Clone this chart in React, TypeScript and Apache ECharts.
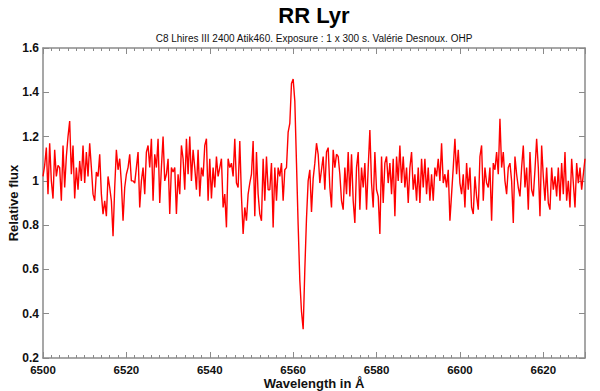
import React, { useEffect, useRef } from "react";
import * as echarts from "echarts";

const TITLE = "RR Lyr";
const SUBTITLE = "C8 Lhires III 2400 Atik460. Exposure : 1 x 300 s. Valérie Desnoux. OHP";
const X_NAME = "Wavelength in Å";
const Y_NAME = "Relative flux";

const X_MIN = 6500;
const X_MAX = 6630;
const X_INTERVAL = 20;
const Y_MIN = 0.2;
const Y_MAX = 1.6;
const Y_INTERVAL = 0.2;

// spectrum sampling step (Å)
const STEP = 0.4;

// flux, segment by segment
const startA = 6500.0;
const fluxA = [1.02, 1.07, 1.15, 0.94, 1.17, 1.0, 0.92, 1.14, 1.02, 1.07];

const startB = 6504.0;
const fluxB = [
  1.06, 0.91, 1.16, 0.97, 1.11, 1.2, 1.27, 1.03, 1.16, 0.92,
  1.06, 0.96, 1.09, 1.0, 1.16, 0.99, 1.13, 1.02, 1.17, 1.06,
  0.94, 0.91, 1.04, 1.02, 1.12, 0.94, 0.85, 0.91, 0.84, 1.02,
  0.97, 0.91, 0.75, 0.97, 1.14, 1.05, 1.1, 0.99, 0.82, 0.97,
  1.03, 1.06, 1.12, 1.0, 1.0, 0.99, 1.06, 1.13, 0.88, 1.0,
  1.06, 0.94, 1.13, 1.16, 1.06, 1.19, 0.91, 1.12, 1.06, 1.19,
  0.9, 1.06, 1.2, 1.0, 1.03, 1.1, 0.85, 1.06, 1.04, 1.06,
  0.85, 1.03, 0.94, 1.16, 1.1, 0.96, 1.19, 1.03, 1.2, 1.0,
  1.14, 1.06, 0.96, 1.14, 0.93, 1.06, 1.02, 1.16, 1.19, 0.91,
  1.1,
];

const startC = 6540.4;
const fluxC = [
  0.92, 1.06, 0.97, 1.11, 1.02, 1.06, 1.1, 0.88, 0.94, 0.79,
  1.1, 1.06, 1.08, 1.02, 1.19, 0.99, 0.97, 1.18, 0.93, 0.76,
  0.88, 0.82, 0.94, 0.99, 1.03, 1.18, 0.84, 1.13, 0.94, 0.85,
];

const startD = 6552.4;
const fluxD = [
  0.82, 1.1, 0.91, 1.11, 0.96, 0.96, 1.08, 0.79, 1.06, 0.91,
  1.06, 1.02, 1.08, 0.91, 1.05, 1.06, 1.22, 1.26, 1.44, 1.46,
  1.36, 1.08, 0.8, 0.55, 0.41, 0.33, 0.6, 0.83, 1.0, 1.05,
  0.86, 1.01, 1.08, 1.17, 1.12, 0.99, 1.05, 1.11, 0.96, 1.13,
  1.15, 0.97, 0.88, 1.14, 1.06, 1.12, 1.11, 1.03,
];

const startE = 6571.6;
const fluxE = [
  0.91, 0.87, 1.06, 0.94, 1.13, 0.93, 1.12, 0.91, 0.81, 1.06,
  1.13, 0.87, 1.06, 0.97, 1.08, 0.87, 1.06, 1.23, 0.99, 0.88,
  1.13, 0.96, 0.93, 0.76, 1.11, 0.9, 1.08, 1.11, 0.99, 1.08,
  0.94, 1.1, 0.84, 1.11, 1.0, 1.16, 0.99, 1.11, 0.97, 1.06,
  0.9, 1.06, 1.13, 0.96, 1.03, 0.91, 1.06, 0.9, 1.1, 0.97,
  1.1, 0.94, 1.06, 0.91, 1.03, 0.91, 1.06, 1.02, 1.1, 1.0,
  1.17, 0.99, 1.03, 0.97, 1.05, 0.82, 0.94, 1.06, 1.19, 1.03,
  1.14, 0.99, 0.94, 1.03, 0.88, 1.08, 0.96, 1.06,
];

const startF = 6602.8;
const fluxF = [
  0.88, 0.85, 1.02, 0.93, 0.87, 1.11, 1.16, 0.91, 1.06, 0.99,
  0.97, 1.06, 0.82, 1.08, 1.05, 1.13, 1.03, 1.28, 1.06, 1.13,
  1.0, 0.94, 1.06, 1.08, 1.0, 0.81, 1.11, 1.03, 0.97, 0.93,
  1.06, 1.16, 0.97, 1.06, 0.87, 1.13, 0.96, 0.93, 1.05, 1.19,
  1.06, 0.84, 1.16, 1.02, 0.91, 1.06, 0.9, 0.87, 1.06, 0.96,
  1.02, 0.93, 1.06, 0.91, 1.08, 0.94, 1.13, 0.91, 1.0, 0.88,
  1.1, 0.99, 0.88, 1.08, 0.99, 1.06, 0.96, 1.03, 1.1,
];

const segments: [number, number[]][] = [
  [startA, fluxA],
  [startB, fluxB],
  [startC, fluxC],
  [startD, fluxD],
  [startE, fluxE],
  [startF, fluxF],
];

const FONT = "'Liberation Sans', Arial, Helvetica, sans-serif";
const AXIS_GRAY = "#8a8a8a";

export default function App() {
  const ref = useRef<HTMLDivElement>(null);

  useEffect(() => {
    if (!ref.current) return;
    const chart = echarts.init(ref.current, null, { renderer: "svg" });

    const data: [number, number][] = [];
    segments.forEach(([start, vals]) => {
      vals.forEach((v, i) => {
        data.push([Math.round((start + i * STEP) * 100) / 100, v]);
      });
    });

    const gridLeft = 43;
    const gridRight = 15;
    const gridTop = 48;
    const gridBottom = 33;
    const plotCx = gridLeft + (600 - gridLeft - gridRight) / 2;
    const plotCy = gridTop + (391 - gridTop - gridBottom) / 2;

    const xCommon = {
      type: "value" as const,
      min: X_MIN,
      max: X_MAX,
      interval: X_INTERVAL,
      axisLine: { show: true, onZero: false, lineStyle: { color: AXIS_GRAY, width: 1.5 } },
      axisTick: { show: true, inside: true, length: 6, lineStyle: { color: AXIS_GRAY, width: 1 } },
      minorTick: { show: true, splitNumber: 10, length: 3, lineStyle: { color: AXIS_GRAY, width: 1 } },
      splitLine: { show: false },
    };
    const yCommon = {
      type: "value" as const,
      min: Y_MIN,
      max: Y_MAX,
      interval: Y_INTERVAL,
      axisLine: { show: true, onZero: false, lineStyle: { color: AXIS_GRAY, width: 1.5 } },
      axisTick: { show: true, inside: true, length: 6, lineStyle: { color: AXIS_GRAY, width: 1 } },
      splitLine: { show: false },
    };

    chart.setOption({
      animation: false,
      backgroundColor: "#ffffff",
      grid: { left: gridLeft, right: gridRight, top: gridTop, bottom: gridBottom, containLabel: false },
      xAxis: [
        {
          ...xCommon,
          position: "bottom",
          axisLabel: {
            show: true,
            showMaxLabel: false,
            margin: 6,
            color: "#111",
            fontWeight: "bold",
            fontSize: 11.5,
            lineHeight: 12,
            fontFamily: FONT,
            formatter: (v: number) => String(v),
          },
        },
        {
          ...xCommon,
          position: "top",
          axisLabel: { show: false },
        },
      ],
      yAxis: [
        {
          ...yCommon,
          position: "left",
          axisLabel: {
            show: true,
            margin: 4,
            color: "#111",
            fontWeight: "bold",
            fontSize: 12,
            lineHeight: 12,
            fontFamily: FONT,
            formatter: (v: number) => String(Math.round(v * 10) / 10),
          },
        },
        {
          ...yCommon,
          position: "right",
          axisLabel: { show: false },
        },
      ],
      series: [
        {
          type: "line",
          data,
          xAxisIndex: 0,
          yAxisIndex: 0,
          symbol: "none",
          lineStyle: { color: "#ff0000", width: 1.4 },
          silent: true,
        },
      ],
      graphic: [
        {
          type: "text",
          x: plotCx,
          y: 15,
          style: {
            text: TITLE,
            fill: "#000",
            font: `bold 22px ${FONT}`,
            textAlign: "center",
            textVerticalAlign: "middle",
          },
        },
        {
          type: "text",
          x: plotCx,
          y: 38,
          style: {
            text: SUBTITLE,
            fill: "#111",
            font: `10px ${FONT}`,
            textAlign: "center",
            textVerticalAlign: "middle",
          },
        },
        {
          type: "text",
          x: plotCx,
          y: 383,
          style: {
            text: X_NAME,
            fill: "#111",
            font: `bold 13px ${FONT}`,
            lineHeight: 13,
            textAlign: "center",
            textVerticalAlign: "middle",
          },
        },
        {
          type: "text",
          x: 13,
          y: plotCy,
          rotation: Math.PI / 2,
          style: {
            text: Y_NAME,
            fill: "#111",
            font: `bold 13px ${FONT}`,
            textAlign: "center",
            textVerticalAlign: "middle",
          },
        },
      ],
    });

    return () => chart.dispose();
  }, []);

  return (
    <div
      ref={ref}
      style={{ position: "fixed", left: 0, top: 0, width: 600, height: 391, background: "#fff" }}
    />
  );
}
